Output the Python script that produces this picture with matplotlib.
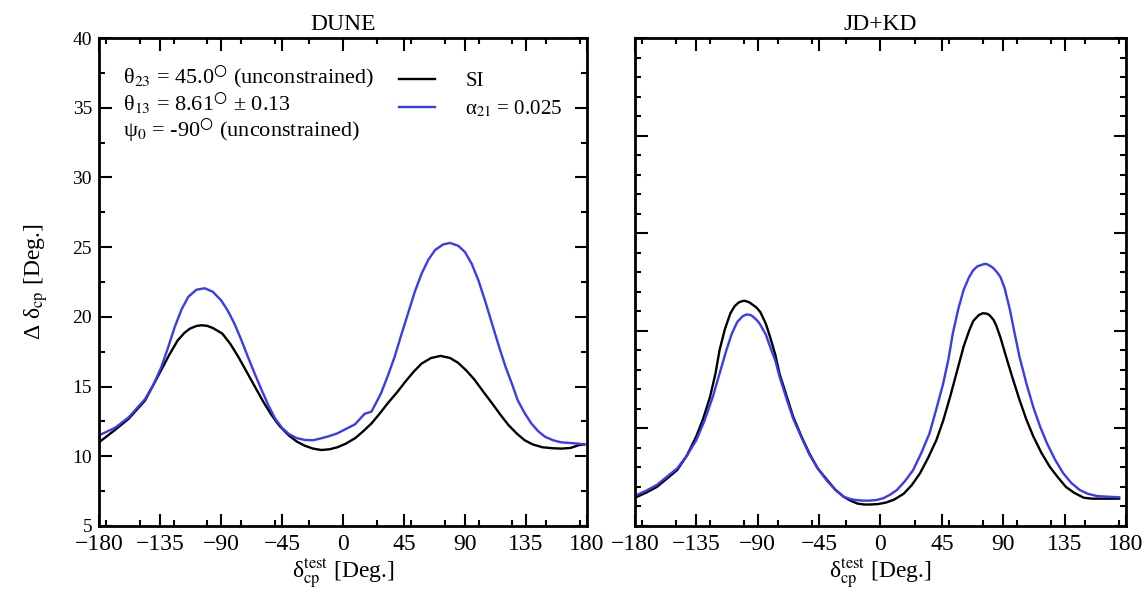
import numpy as np
import matplotlib
matplotlib.use("Agg")
import matplotlib.pyplot as plt
from matplotlib.ticker import MultipleLocator, NullFormatter

plt.rcParams['font.family'] = ['Liberation Serif', 'DejaVu Serif']
plt.rcParams['mathtext.fontset'] = 'stix'

# ---- DUNE panel (left) ----
dune_si_x = [-180, -168, -158, -146, -134, -128, -122, -117, -113, -108, -104, -100, -96, -89,
             -83, -77, -71, -65, -59, -53, -47, -40, -34, -28, -22, -16, -10, -4, 2, 9, 15, 21,
             27, 33, 40, 46, 52, 58, 65, 72, 79, 85, 91, 97, 103, 110, 116, 122, 128, 134, 140,
             147, 154, 161, 168, 174, 178]
dune_si_y = [11.0, 11.9, 12.7, 14.0, 16.2, 17.3, 18.3, 18.85, 19.15, 19.35, 19.4, 19.35, 19.2,
             18.8, 18.05, 17.1, 16.05, 15.0, 13.95, 13.0, 12.2, 11.5, 11.05, 10.75, 10.55, 10.45,
             10.5, 10.65, 10.9, 11.3, 11.8, 12.35, 13.05, 13.8, 14.6, 15.35, 16.05, 16.65, 17.05,
             17.2, 17.05, 16.7, 16.15, 15.5, 14.7, 13.8, 13.0, 12.25, 11.65, 11.15, 10.85, 10.65,
             10.58, 10.55, 10.6, 10.8, 10.85]

dune_a_x = [-180, -168, -158, -146, -140, -134, -129, -124, -119, -114, -108, -102, -96, -90,
            -85, -80, -75, -70, -65, -60, -55, -50, -45, -40, -34, -28, -22, -16, -10, -4, 2, 9,
            16, 21, 24, 28, 33, 38, 43, 48, 53, 58, 63, 68, 74, 79, 85, 90, 95, 100, 105, 110,
            115, 120, 125, 129, 134, 139, 144, 149, 155, 161, 168, 174, 178]
dune_a_y = [11.5, 12.05, 12.8, 14.1, 15.1, 16.4, 17.8, 19.3, 20.55, 21.45, 21.95, 22.05, 21.8,
            21.2, 20.45, 19.5, 18.35, 17.1, 15.9, 14.75, 13.65, 12.7, 12.05, 11.6, 11.3, 11.17,
            11.15, 11.29, 11.45, 11.65, 11.95, 12.3, 13.05, 13.2, 13.75, 14.5, 15.75, 17.1, 18.7,
            20.25, 21.8, 23.1, 24.1, 24.8, 25.2, 25.3, 25.1, 24.65, 23.8, 22.6, 21.1, 19.5, 17.9,
            16.4, 15.1, 14.0, 13.1, 12.35, 11.8, 11.4, 11.15, 11.0, 10.95, 10.9, 10.85]

# ---- JD+KD panel (right) ----
jdkd_si_x = [-180, -172, -164, -157, -149, -142, -135, -130, -125, -121, -118, -114, -110, -107,
             -104, -101, -99, -96, -94, -91, -88, -84, -81, -77, -74, -69, -64, -58, -52, -46,
             -39, -33, -27, -22, -17, -12, -8, -2, 4, 10, 17, 23, 29, 35, 41, 46, 51, 56, 61, 65,
             68, 72, 75, 78, 80, 83, 85, 88, 92, 97, 102, 107, 112, 118, 124, 130, 136, 142, 149,
             155, 161, 168, 175]
jdkd_si_y = [6.45, 6.7, 7.0, 7.4, 7.87, 8.6, 9.6, 10.5, 11.6, 12.8, 14.0, 15.1, 15.9, 16.25,
             16.45, 16.53, 16.53, 16.45, 16.35, 16.2, 15.95, 15.35, 14.7, 13.75, 12.8, 11.7,
             10.6, 9.6, 8.7, 7.95, 7.35, 6.85, 6.5, 6.3, 6.15, 6.1, 6.1, 6.12, 6.2, 6.35, 6.65,
             7.1, 7.7, 8.5, 9.4, 10.4, 11.6, 12.9, 14.2, 15.0, 15.5, 15.8, 15.9, 15.88, 15.8,
             15.55, 15.25, 14.65, 13.7, 12.55, 11.45, 10.45, 9.6, 8.75, 8.05, 7.5, 7.0, 6.7,
             6.45, 6.4, 6.4, 6.4, 6.4]

jdkd_a_x = [-180, -172, -164, -157, -149, -142, -135, -129, -123, -118, -113, -109, -105, -101,
            -98, -95, -93, -90, -88, -84, -81, -77, -74, -69, -64, -58, -52, -46, -39, -33, -27,
            -22, -18, -13, -8, -3, 2, 7, 12, 18, 24, 30, 36, 41, 46, 50, 53, 57, 61, 65, 68, 71,
            73, 76, 78, 81, 83, 86, 88, 91, 95, 98, 102, 107, 112, 117, 122, 128, 134, 140, 146,
            152, 159, 167, 175]
jdkd_a_y = [6.55, 6.8, 7.1, 7.5, 7.95, 8.6, 9.4, 10.4, 11.6, 12.8, 14.0, 14.85, 15.45, 15.75,
            15.84, 15.8, 15.7, 15.5, 15.3, 14.8, 14.2, 13.45, 12.65, 11.55, 10.5, 9.55, 8.65,
            7.95, 7.3, 6.85, 6.5, 6.38, 6.33, 6.3, 6.3, 6.33, 6.42, 6.6, 6.84, 7.3, 7.87, 8.75,
            9.75, 11.0, 12.3, 13.6, 14.85, 16.1, 17.1, 17.75, 18.1, 18.3, 18.35, 18.42, 18.42,
            18.3, 18.2, 17.95, 17.75, 17.2, 16.05, 15.0, 13.65, 12.3, 11.1, 10.1, 9.25, 8.4,
            7.7, 7.2, 6.85, 6.65, 6.53, 6.5, 6.47]

x_ticks = [-180, -135, -90, -45, 0, 45, 90, 135, 180]
blue = '#3a3af0'

fig = plt.figure(figsize=(11.48, 5.94), dpi=100)
ax1 = fig.add_axes([0.0862, 0.1145, 0.4251, 0.8215])
ax2 = fig.add_axes([0.5531, 0.1145, 0.4277, 0.8215])

for ax in (ax1, ax2):
    ax.set_xlim(-180, 180)
    ax.set_xticks(x_ticks)
    ax.set_xticklabels([('\u2212%d' % -t) if t < 0 else '%d' % t for t in x_ticks])
    ax.xaxis.set_minor_locator(MultipleLocator(25))
    ax.tick_params(which='both', direction='in', top=True, right=True, width=1.5)
    ax.tick_params(which='major', length=9)
    ax.tick_params(which='minor', length=4.5)
    ax.tick_params(axis='x', labelsize=17, pad=6)
    ax.tick_params(axis='y', labelsize=14, pad=5)
    for s in ax.spines.values():
        s.set_linewidth(2.0)
    ax.set_xlabel('δ$_{\\rm cp}^{\\rm test}$ [Deg.]', fontsize=17, labelpad=1)

ax1.plot(dune_si_x, dune_si_y, color='black', lw=1.7, label='SI')
ax1.plot(dune_a_x, dune_a_y, color=blue, lw=1.7, label='α$_{21}$ = 0.025')
ax1.set_ylim(5, 40)
ax1.yaxis.set_major_locator(MultipleLocator(5))
ax1.yaxis.set_minor_locator(MultipleLocator(2.5))
ax1.set_ylabel('Δ δ$_{\\rm cp}$ [Deg.]', fontsize=17, labelpad=16)
ax1.set_title('DUNE', fontsize=17, pad=6)

deg = '$^{\\bigcirc}$'
ax1.text(0.049, 0.920, 'θ$_{23}$ = 45.0' + deg + ' (unconstrained)', transform=ax1.transAxes,
         fontsize=16, va='center')
ax1.text(0.049, 0.867, 'θ$_{13}$ = 8.61' + deg + ' ± 0.13', transform=ax1.transAxes,
         fontsize=16, va='center')
ax1.text(0.049, 0.811, 'ψ$_{0}$ = -90' + deg + ' (unconstrained)', transform=ax1.transAxes,
         fontsize=16, va='center')
ax1.legend(loc='upper left', bbox_to_anchor=(0.597, 0.948), frameon=False, fontsize=15,
           handlelength=1.75, handletextpad=1.45, labelspacing=0.35, borderaxespad=0)

ax2.plot(jdkd_si_x, jdkd_si_y, color='black', lw=1.7)
ax2.plot(jdkd_a_x, jdkd_a_y, color=blue, lw=1.7)
ax2.set_ylim(5, 30)
ax2.yaxis.set_major_locator(MultipleLocator(5))
ax2.yaxis.set_minor_locator(MultipleLocator(1))
ax2.yaxis.set_major_formatter(NullFormatter())
ax2.set_title('JD+KD', fontsize=17, pad=6)

fig.savefig('out.png', dpi=100)
